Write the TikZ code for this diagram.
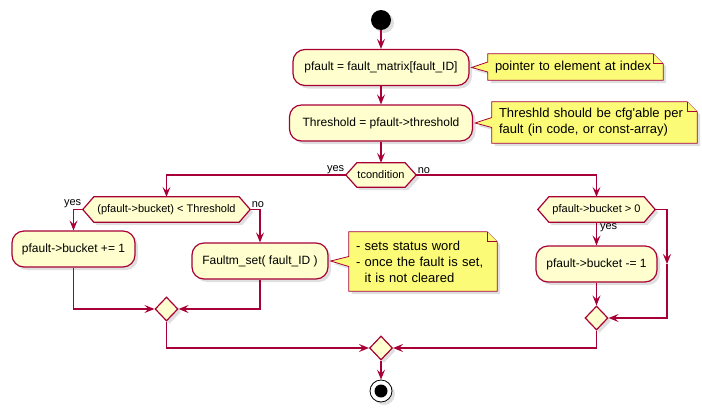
\documentclass[tikz,border=0pt]{standalone}
\usepackage{fontspec}
\setmainfont{Liberation Sans}
\usetikzlibrary{arrows.meta,positioning,shapes.geometric,shadows,backgrounds}

\definecolor{plred}{HTML}{A80036}
\definecolor{plcream}{HTML}{FEFECE}
\definecolor{plnote}{HTML}{FBFB77}

\tikzset{
  plshadow/.style={drop shadow={shadow xshift=3pt,shadow yshift=-3pt,opacity=0.25}},
  flow/.style={draw=plred, line width=1.2pt},
  action/.style={draw=plred, fill=plcream, line width=1.2pt, rounded corners=12pt,
    minimum height=36pt, inner sep=0pt, font=\fontsize{12}{14}\selectfont, plshadow},
  decision/.style={minimum height=25pt, inner sep=0pt, font=\fontsize{11}{13}\selectfont},
  hexline/.style={draw=plred, fill=plcream, line width=1.2pt, plshadow},
  merge/.style={diamond, draw=plred, fill=plcream, line width=1.2pt,
    minimum width=23pt, minimum height=24pt, inner sep=0pt, plshadow},
  notebox/.style={align=left, inner xsep=7pt, inner ysep=0pt, font=\fontsize{13}{16}\selectfont},
  noteline/.style={draw=plred, fill=plnote, line width=0.8pt},
  lbl/.style={font=\fontsize{11}{13}\selectfont, inner sep=1pt},
  startdot/.style={circle, fill=black, minimum size=20pt, inner sep=0pt, plshadow},
  stopdot/.style={circle, draw=black, fill=white, line width=0.8pt, minimum size=22pt, inner sep=0pt, plshadow},
  >={Stealth[length=10pt,width=8pt,inset=4pt]},
}

\begin{document}
\begin{tikzpicture}[x=1pt,y=-1pt]
  \useasboundingbox (0,0) rectangle (702,418);

  % main column
  \node[startdot] at (381,20) (start) {};
  \node[action, minimum width=176pt] at (381,67.5) (get_fault) {pfault = fault\_matrix[fault\_ID]};
  \node[action, minimum width=183pt] at (381,123) (get_thr) {Threshold = pfault->threshold};
  \node[decision, minimum width=70pt, minimum height=24pt] at (381,175) (t_cond) {tcondition};

  % yes side
  \node[decision, minimum width=167pt] at (166.5,209.5) (cmp_thr) {(pfault->bucket) < Threshold};
  \node[action, minimum width=123pt] at (73.5,249) (inc_bucket) {pfault->bucket += 1};
  \node[action, minimum width=136pt] at (260,261) (fault_set) {Faultm\_set( fault\_ID )};
  \node[merge] at (166.5,309) (merge_left) {};

  % no side
  \node[decision, minimum width=117pt] at (596.5,209.5) (cmp_zero) {pfault->bucket > 0};
  \node[action, minimum width=121pt] at (596.5,264) (dec_bucket) {pfault->bucket -= 1};
  \node[merge] at (596.5,318) (merge_right) {};

  \node[merge] at (381,348) (merge_all) {};
  \node[stopdot] at (381,391) (stop) {};
  \fill (stop) circle [radius=6.5pt];

  % notes
  \node[notebox, text width=161pt, minimum height=26pt] at (575.5,67) (note_ptr) {pointer to element at index};
  \node[notebox, text width=191pt, minimum height=41pt] at (594.5,122.5) (note_thr) {Threshld should be cfg\textquotesingle able per\\fault (in code, or const-array)};
  \node[notebox, text width=134pt, minimum height=59pt] at (423,261.5) (note_set) {- sets status word\\- once the fault is set,\\\phantom{- }it is not cleared};

  \begin{scope}[on background layer]
    \foreach \d in {t_cond,cmp_thr,cmp_zero}
      \draw[hexline] (\d.west) -- ([xshift=11pt]\d.north west) -- ([xshift=-11pt]\d.north east)
        -- (\d.east) -- ([xshift=-11pt]\d.south east) -- ([xshift=11pt]\d.south west) -- cycle;
    \foreach \n/\t in {note_ptr/get_fault,note_thr/get_thr,note_set/fault_set} {
      \draw[noteline, plshadow] (\n.north west) -- ([xshift=-10pt]\n.north east) -- ([yshift=-10pt]\n.north east)
        -- (\n.south east) -- (\n.south west) -- ([yshift=-5pt]\n.west) -- ([xshift=2pt]\t.east)
        -- ([yshift=5pt]\n.west) -- cycle;
      \draw[noteline] ([xshift=-10pt]\n.north east) -- ([xshift=-10pt,yshift=-10pt]\n.north east)
        -- ([yshift=-10pt]\n.north east);
    }
  \end{scope}

  % connectors
  \draw[flow,->] (start) -- (get_fault);
  \draw[flow,->] (get_fault) -- (get_thr);
  \draw[flow,->] (get_thr) -- (t_cond);
  \draw[flow,->] (t_cond.west) -| node[lbl, pos=0, anchor=south east] {yes} (cmp_thr.north);
  \draw[flow,->] (t_cond.east) -| node[lbl, pos=0, anchor=south west] {no} (cmp_zero.north);

  \draw[flow,->] (cmp_thr.west) -| node[lbl, pos=0, anchor=south east] {yes} (inc_bucket.north);
  \draw[flow,->] (cmp_thr.east) -| node[lbl, pos=0, anchor=south west] {no} (fault_set.north);
  \draw[flow,->] (inc_bucket.south) |- (merge_left.west);
  \draw[flow,->] (fault_set.south) |- (merge_left.east);
  \draw[flow,->] (merge_left.south) |- (merge_all.west);

  \draw[flow,->] (cmp_zero.south) -- node[lbl, pos=0, anchor=north west, xshift=2pt] {yes} (dec_bucket.north);
  \coordinate (skip) at (667,264);
  \draw[flow,->] (cmp_zero.east) -| (skip);
  \draw[flow,->] (skip) |- (merge_right.east);
  \draw[flow,->] (dec_bucket.south) -- (merge_right.north);
  \draw[flow,->] (merge_right.south) |- (merge_all.east);

  \draw[flow,->] (merge_all.south) -- (stop.north);

\end{tikzpicture}
\end{document}
